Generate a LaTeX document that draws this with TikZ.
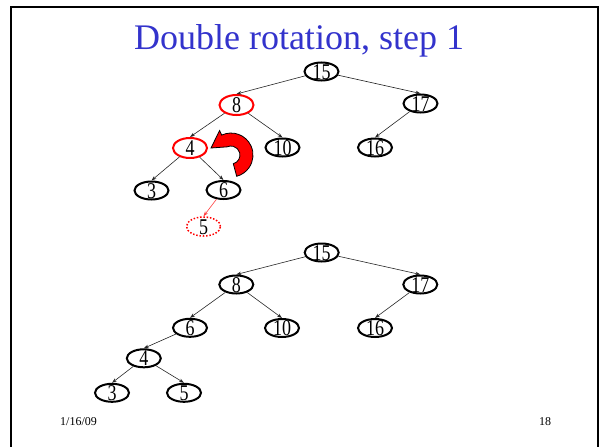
\documentclass[tikz,border=0pt]{standalone}
\usepackage{fontspec}
\setmainfont{Liberation Serif}
\usetikzlibrary{shapes.geometric,arrows.meta}
\definecolor{titleblue}{RGB}{51,51,204}
\newcommand{\nlbl}[1]{\smash{\makebox[0pt]{\raisebox{-7.5pt}{\scalebox{1}[1.25]{#1}}}}}
\begin{document}
\begin{tikzpicture}[x=1pt,y=-1pt,
  tn/.style={ellipse,draw=black,line width=2pt,minimum width=34pt,minimum height=18pt,inner sep=0pt,font=\fontsize{18}{18}\selectfont},
  rn/.style={tn,draw=red,minimum height=20pt},
  dn/.style={tn,draw=red,line width=1.5pt,dash pattern=on 1.5pt off 1.8pt,minimum height=19pt},
  conn/.style={draw=black!85,line width=0.6pt,-{Stealth[length=5pt,width=3.5pt]}},
  rconn/.style={conn,draw=red!75},
  ]
\useasboundingbox (0,0) rectangle (600,447);
\draw[line width=2pt] (11,447) -- (11,7) -- (598,7) -- (598,447);

\node[text=titleblue,font=\fontsize{36}{36}\selectfont,anchor=base,inner sep=0pt] (title) at (299,49) {Double rotation, step 1};

% upper tree
\node[tn] (a15) at (321.5,71.5) {\nlbl{15}};
\node[rn] (a8) at (236.5,105) {\nlbl{8}};
\node[tn] (a17) at (420.5,103.5) {\nlbl{17}};
\node[rn] (a4) at (190,148) {\nlbl{4}};
\node[tn] (a10) at (282.5,147.5) {\nlbl{10}};
\node[tn] (a16) at (375,147.5) {\nlbl{16}};
\node[tn] (a3) at (151.5,190.5) {\nlbl{3}};
\node[tn] (a6) at (223.5,190) {\nlbl{6}};
\node[dn] (a5) at (203.5,226.5) {\nlbl{5}};

\path[conn] (a15) -- (a8.north);
\path[conn] (a15) -- (a17.north);
\path[conn] (a8) -- (a4.north);
\path[conn] (a8) -- (a10.north);
\path[conn] (a17) -- (a16.north);
\path[conn] (a4) -- (a3.north);
\path[conn] (a4) -- (a6.north);
\path[rconn] (a6) -- (a5.north);

% curved rotation arrow
\filldraw[fill=red,draw=black,line width=0.8pt,line join=miter]
  (211,148) -- (219.6,130.5) -- (221.7,135.1)
  arc[start angle=-115,end angle=75,radius=22]
  -- (233.3,163.7)
  arc[start angle=75,end angle=-115,radius=9]
  -- cycle;

% lower tree
\node[tn] (b15) at (321.7,252.5) {\nlbl{15}};
\node[tn] (b8) at (236.3,284.5) {\nlbl{8}};
\node[tn] (b17) at (420.3,284.5) {\nlbl{17}};
\node[tn] (b6) at (190,327.8) {\nlbl{6}};
\node[tn] (b10) at (282,328) {\nlbl{10}};
\node[tn] (b16) at (375,328) {\nlbl{16}};
\node[tn] (b4) at (143.8,358.3) {\nlbl{4}};
\node[tn] (b3) at (112,392.8) {\nlbl{3}};
\node[tn] (b5) at (184,392.8) {\nlbl{5}};

\path[conn] (b15) -- (b8.north);
\path[conn] (b15) -- (b17.north);
\path[conn] (b8) -- (b6.north);
\path[conn] (b8) -- (b10.north);
\path[conn] (b17) -- (b16.north);
\path[conn] (b6) -- (b4.north);
\path[conn] (b4) -- (b3.north);
\path[conn] (b4) -- (b5.north);

% footer
\node[font=\fontsize{12}{12}\selectfont,anchor=base,inner sep=0pt] (date) at (78.5,425) {1/16/09};
\node[font=\fontsize{12}{12}\selectfont,anchor=base,inner sep=0pt] (page) at (545,425) {18};
\end{tikzpicture}
\end{document}
